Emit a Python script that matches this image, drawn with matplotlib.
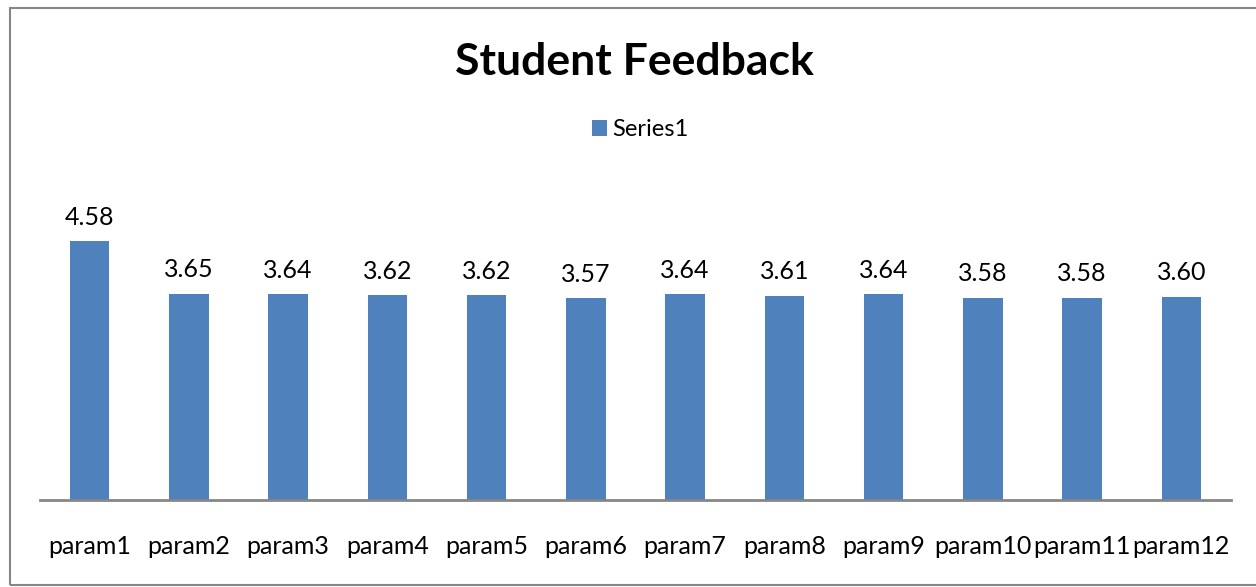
import matplotlib.pyplot as plt
from matplotlib.patches import Rectangle

plt.rcParams['font.family'] = ['Lato', 'DejaVu Sans']

params = ['param1', 'param2', 'param3', 'param4', 'param5', 'param6',
          'param7', 'param8', 'param9', 'param10', 'param11', 'param12']
scores = [4.58, 3.65, 3.64, 3.62, 3.62, 3.57, 3.64, 3.61, 3.64, 3.58, 3.58, 3.60]
series_name = 'Series1'

fig = plt.figure(figsize=(12.56, 5.87), dpi=100)
ax = fig.add_axes([40/1256, 87/587, 1191/1256, 282.5/587])

x = list(range(len(params)))
bars = ax.bar(x, scores, width=0.4, color='#4F81BD', label=series_name)
for xi, v in zip(x, scores):
    ax.annotate('%.2f' % v, (xi, v), xytext=(0, 12), textcoords='offset points',
                ha='center', va='baseline', fontsize=18)

ax.set_xlim(-0.5, len(params) - 0.5)
ax.set_ylim(0, 5)
ax.set_xticks(x)
ax.set_xticklabels(params, fontsize=18)
ax.tick_params(axis='x', length=0, pad=25)
ax.set_yticks([])
for s in ['top', 'right', 'left']:
    ax.spines[s].set_visible(False)
ax.spines['bottom'].set_color('#868686')
ax.spines['bottom'].set_linewidth(2)

fig.text(634/1256, (587-75)/587, 'Student Feedback', ha='center', va='baseline',
         fontsize=32, fontweight='bold')

fig.legend(handles=[bars], labels=[series_name], loc='center',
           bbox_to_anchor=(640/1256, (587-130)/587), frameon=False, fontsize=17,
           handlelength=0.65, handleheight=0.65, handletextpad=0.2)

# chart border, cut off on the right like the original
fig.patches.append(Rectangle((10/1256, 2/587), 1300/1256, 577/587, transform=fig.transFigure,
                             fill=False, edgecolor='#868686', linewidth=1.5))

fig.savefig('out.png', dpi=100)
